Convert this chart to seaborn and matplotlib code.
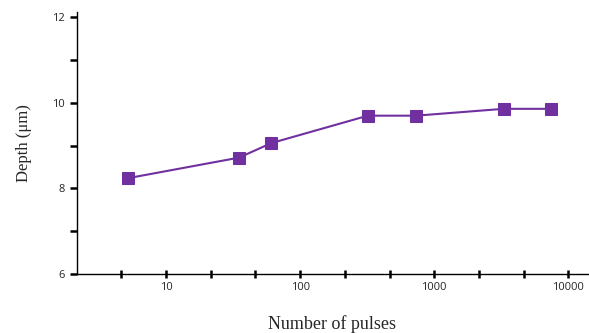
import matplotlib
matplotlib.use("Agg")
import matplotlib.pyplot as plt
import matplotlib.ticker as mticker
import seaborn as sns
import pandas as pd

# values
pulses = [5.2, 35, 61, 320, 730, 3300, 7500]
depth = [8.24, 8.72, 9.06, 9.70, 9.70, 9.86, 9.86]
x_labels = {10: "10", 100: "100", 1000: "1000", 10000: "10000"}
y_major = [6, 8, 10, 12]
y_minor = [7, 9, 11]

sns.set_theme(style="white")
plt.rcParams["font.family"] = ["Open Sans", "DejaVu Sans"]

df = pd.DataFrame({"pulses": pulses, "depth": depth})

fig = plt.figure(figsize=(5.89, 3.33), dpi=100)
ax = fig.add_axes([0.131, 0.177, 0.867, 0.788])

sns.lineplot(data=df, x="pulses", y="depth", ax=ax, color="#7030A0",
             marker="s", markersize=8, markeredgecolor="#7030A0",
             linewidth=1.5)

ax.set_xscale("log")
ax.set_xlim(2.17, 14000)
ax.set_ylim(6, 12.13)

# ticks every third of a decade, labels only on decades
x_ticks = [10 ** (k / 3) for k in range(1, 13)]
ax.xaxis.set_major_locator(mticker.FixedLocator(x_ticks))
ax.xaxis.set_minor_locator(mticker.NullLocator())
ax.set_xticklabels([x_labels.get(round(t), "") for t in x_ticks])
ax.set_yticks(y_major)
ax.set_yticks(y_minor, minor=True)

for side in ("top", "right"):
    ax.spines[side].set_visible(False)
for side in ("left", "bottom"):
    ax.spines[side].set_color("black")
    ax.spines[side].set_linewidth(1.0)

ax.tick_params(axis="x", which="major", direction="inout", length=6,
               width=1.8, color="black", labelsize=8, pad=3, bottom=True)
ax.tick_params(axis="y", which="both", direction="out", length=5,
               width=1.8, color="black", labelsize=8, pad=4, left=True)

ax.set_xlabel("Number of pulses", fontsize=13, family="Liberation Serif",
              labelpad=16)
ax.set_ylabel("Depth (\u03bcm)", fontsize=12, family="Liberation Serif",
              labelpad=14)

fig.savefig("out.png", dpi=100)
plt.close(fig)
